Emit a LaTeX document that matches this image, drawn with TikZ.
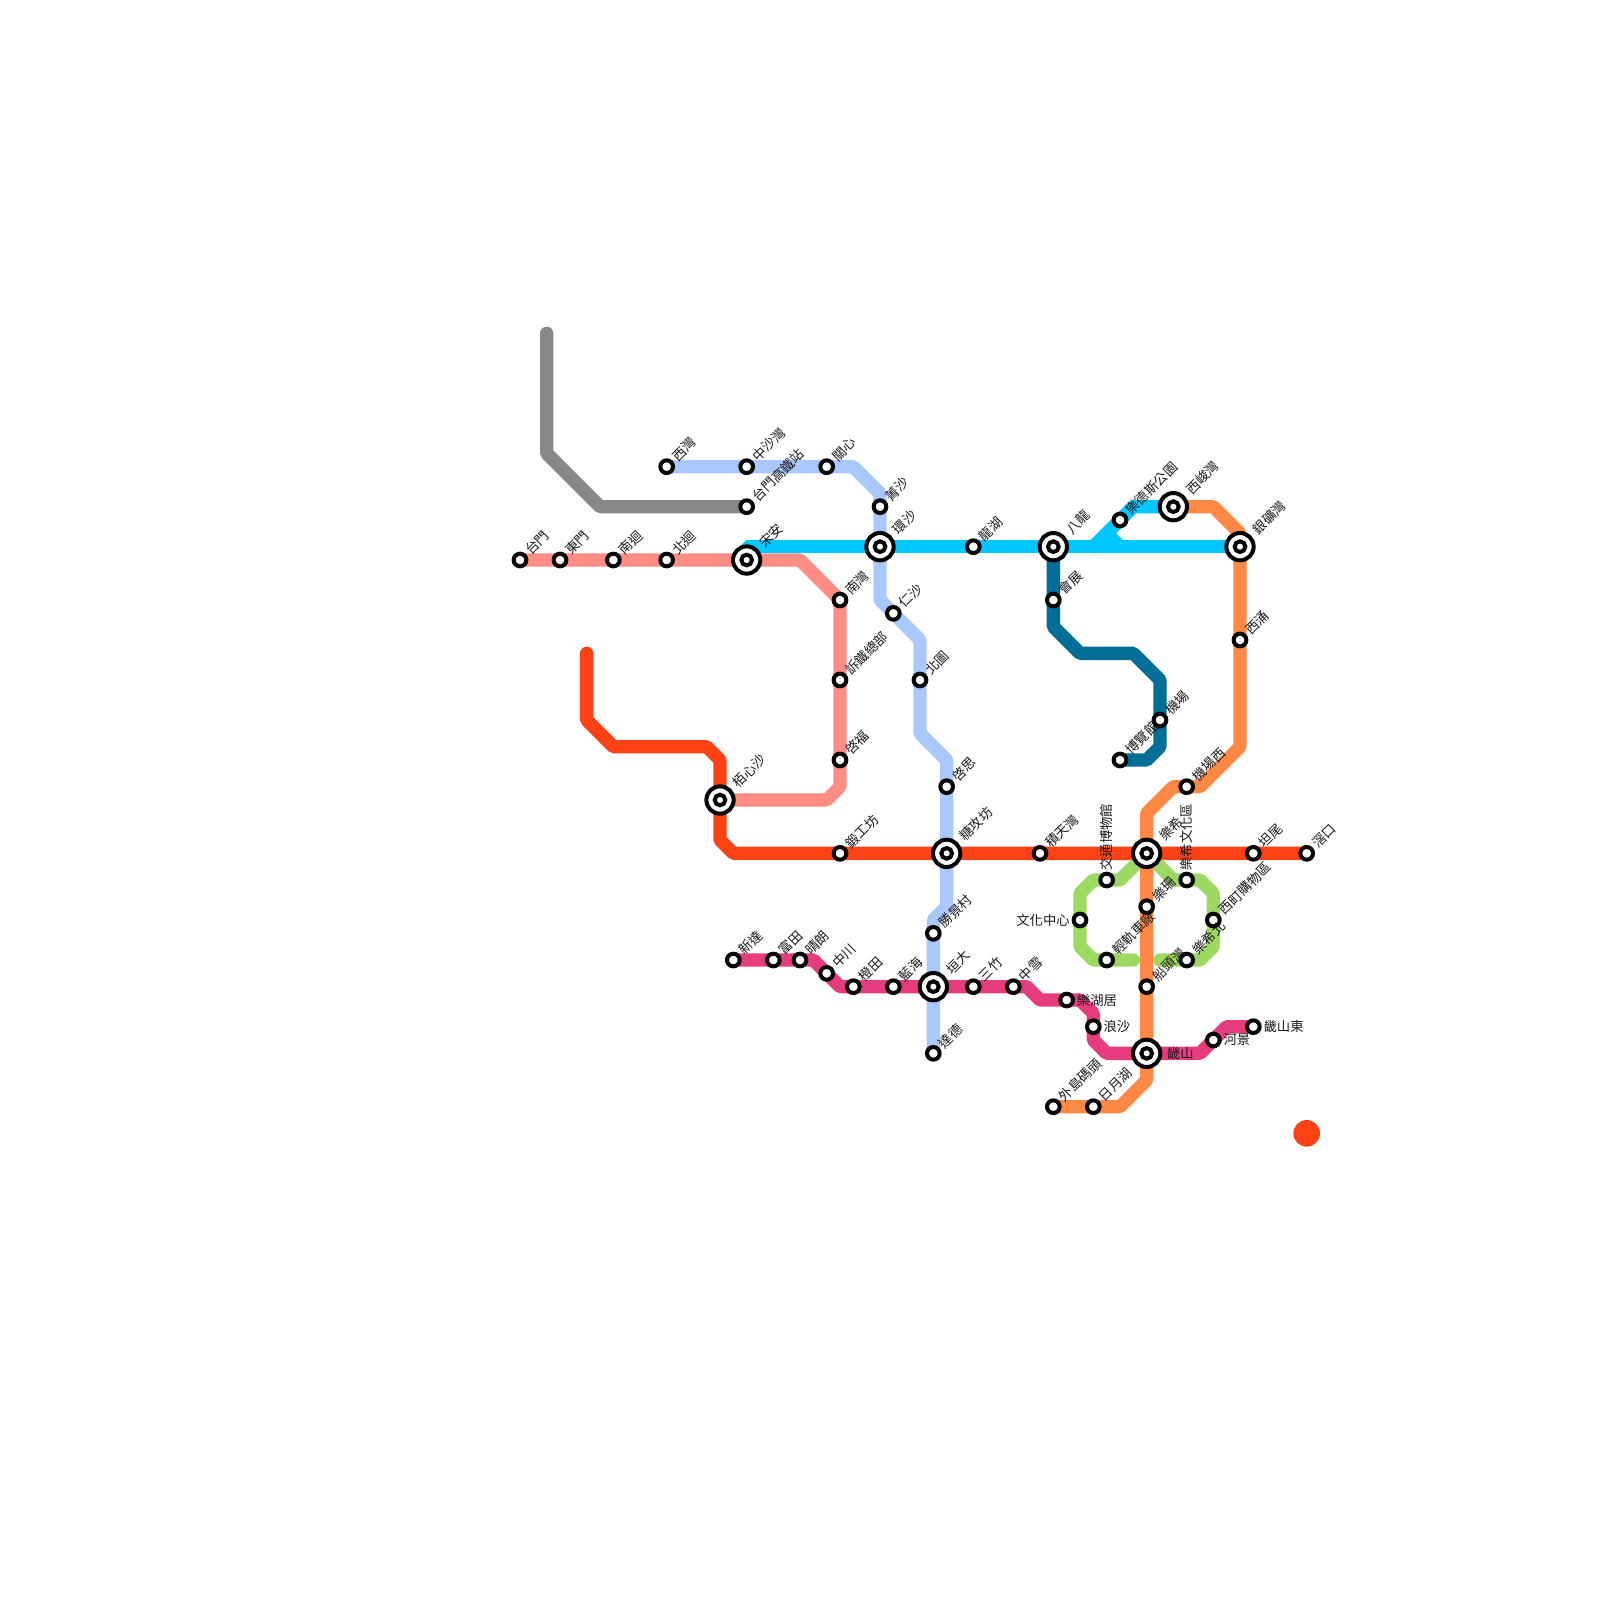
\documentclass[tikz,border=0pt]{standalone}
\usepackage{fontspec}
\setmainfont{Noto Sans CJK TC}
\definecolor{cgray}{HTML}{888888}
\definecolor{clight}{HTML}{A8C8FF}
\definecolor{csalmon}{HTML}{FF8D85}
\definecolor{ccyan}{HTML}{00C8FF}
\definecolor{cred}{HTML}{FF4216}
\definecolor{corange}{HTML}{FF8845}
\definecolor{cdeep}{HTML}{006E96}
\definecolor{cgreen}{HTML}{9CD862}
\definecolor{cpink}{HTML}{E63C7D}
\pgfdeclarelayer{lines}
\pgfsetlayers{lines,main}
\tikzset{
  metro/.style={line width=10pt,line cap=round,line join=bevel},
  ring/.style={circle,draw=black,fill=white,line width=3pt,inner sep=0pt,minimum size=9.5pt},
  innerring/.style={circle,draw=black,fill=white,line width=3pt,inner sep=0pt,minimum size=8pt},
  bigring/.style={circle,draw=black,fill=white,line width=3pt,inner sep=0pt,minimum size=20.5pt},
  lbl/.style={inner sep=0pt,font=\fontsize{10}{10}\selectfont,text=black!90},
}
% small station, label at 45 degrees
\newcommand{\stn}[4]{\node[ring] (#1) at (#2,#3) {};
  \node[lbl,xshift=5.8pt,yshift=5.8pt,rotate=45,anchor=west] (#1-l) at (#2,#3) {#4};}
% interchange, label at 45 degrees
\newcommand{\xch}[4]{\node[bigring] (#1) at (#2,#3) {};\node[innerring] (#1-i) at (#2,#3) {};
  \node[lbl,xshift=11.2pt,yshift=11.2pt,rotate=45,anchor=west] (#1-l) at (#2,#3) {#4};}
% small station, label upright above
\newcommand{\stnup}[4]{\node[ring] (#1) at (#2,#3) {};
  \node[lbl,yshift=7pt,rotate=90,anchor=west] (#1-l) at (#2,#3) {#4};}
% small station, horizontal label on the right
\newcommand{\stnr}[4]{\node[ring] (#1) at (#2,#3) {};
  \node[lbl,anchor=west,xshift=7.5pt] (#1-l) at (#2,#3) {#4};}
% small station, horizontal label on the left
\newcommand{\stnl}[4]{\node[ring] (#1) at (#2,#3) {};
  \node[lbl,anchor=east,xshift=-7.5pt] (#1-l) at (#2,#3) {#4};}
\begin{document}
\begin{tikzpicture}[x=10pt,y=-10pt]
\useasboundingbox (0,0) rectangle (120,120);
% stations
\stn{taimen}{39}{42}{台門}
\stn{dongmen}{42}{42}{東門}
\stn{nanhui}{46}{42}{南迴}
\stn{beihui}{50}{42}{北迴}
\xch{songan}{56}{42}{宋安}
\stn{xiwan}{50}{35}{西灣}
\stn{zhongsha}{56}{35}{中沙灣}
\stn{gaotie}{56}{38}{台門高鐵站}
\stn{guanxin}{62}{35}{關心}
\stn{jingsha}{66}{38}{菁沙}
\xch{huansha}{66}{41}{環沙}
\stn{nanwan}{63}{45}{南灣}
\stn{rensha}{67}{46}{仁沙}
\stn{sutie}{63}{51}{訴鐵總部}
\stn{beitu}{69}{51}{北圖}
\stn{qifu}{63}{57}{啓福}
\stn{qisi}{71}{59}{啓思}
\xch{baixin}{54}{60}{栢心沙}
\stn{duangong}{63}{64}{鍛工坊}
\xch{tanggong}{71}{64}{糖攻坊}
\stn{jitian}{78}{64}{積天灣}
\xch{lexi}{86}{64}{樂希}
\stn{tanwei}{94}{64}{坦尾}
\stn{jiaokou}{98}{64}{滘口}
\stn{longhu}{73}{41}{龍湖}
\xch{balong}{79}{41}{八龍}
\stn{huizhan}{79}{45}{會展}
\stn{jichang}{87}{54}{機場}
\stn{bolan}{84}{57}{博覽館}
\stn{xichong}{93}{48}{西涌}
\xch{yinkuang}{93}{41}{銀礦灣}
\xch{xijun}{88}{38}{西峻灣}
\stn{lede}{84}{39}{樂德斯公園}
\stn{jichangxi}{89}{59}{機場西}
\stnup{jiaotong}{83}{66}{交通博物館}
\stnup{wenhuaqu}{89}{66}{樂希文化區}
\stn{leshan}{86}{68}{樂珊}
\stnl{wenhua}{81}{69}{文化中心}
\stn{qinggui}{83}{72}{輕軌車廠}
\stn{ximen}{91}{69}{西町購物區}
\stn{lexibei}{89}{72}{樂希北}
\stn{chuantou}{86}{74}{船頭灣}
\stn{xinda}{55}{72}{新達}
\stn{futian}{58}{72}{富田}
\stn{qinglang}{60}{72}{晴朗}
\stn{zhongchuan}{62}{73}{中川}
\stn{chengtian}{64}{74}{橙田}
\stn{lanhai}{67}{74}{藍海}
\xch{yuanda}{70}{74}{垣大}
\stn{sanzhu}{73}{74}{三竹}
\stn{zhongxue}{76}{74}{中雪}
\stn{shengjing}{70}{70}{勝景村}
\stn{dade}{70}{79}{達德}
\stnr{lehu}{80}{75}{樂湖居}
\stnr{langsha}{82}{77}{浪沙}
\node[bigring] (jishan) at (86,79) {};\node[innerring] (jishan-i) at (86,79) {};
\node[lbl,anchor=west,xshift=15pt] (jishan-l) at (86,79) {畿山};
\stnr{hejing}{91}{78}{河景}
\stnr{jishandong}{94}{77}{畿山東}
\stn{waidao}{79}{83}{外島碼頭}
\stn{riyue}{82}{83}{日月湖}
\node[circle,fill=cred,inner sep=0pt,minimum size=20pt] (dot) at (98,85) {};
% lines
\begin{pgfonlayer}{lines}
\draw[metro,cgray] (41,25) -- (41,34) -- (45,38) -- (gaotie.center);
\draw[metro,ccyan] (songan.center) -- (56,41) -- (huansha.center) -- (longhu.center) -- (balong.center) -- (yinkuang.center);
\draw[metro,ccyan] (82,41) -- (lede.center) -- (85,38) -- (xijun.center);
\draw[metro,ccyan,line cap=butt] (83,40) -- (84,41);
\draw[metro,clight] (xiwan.center) -- (zhongsha.center) -- (guanxin.center) -- (64,35) -- (66,37) -- (jingsha.center) -- (huansha.center) -- (66,45) -- (rensha.center) -- (69,48) -- (beitu.center) -- (69,55) -- (71,57) -- (qisi.center) -- (tanggong.center) -- (71,68) -- (70,69) -- (shengjing.center) -- (yuanda.center) -- (dade.center);
\draw[metro,csalmon] (taimen.center) -- (dongmen.center) -- (nanhui.center) -- (beihui.center) -- (songan.center) -- (60,42) -- (nanwan.center) -- (sutie.center) -- (qifu.center) -- (63,59) -- (62,60) -- (baixin.center);
\draw[metro,cred] (44,49) -- (44,54) -- (46,56) -- (53,56) -- (54,57) -- (baixin.center) -- (54,63) -- (55,64) -- (duangong.center) -- (tanggong.center) -- (jitian.center) -- (lexi.center) -- (tanwei.center) -- (jiaokou.center);
\draw[metro,cdeep] (balong.center) -- (huizhan.center) -- (79,47) -- (81,49) -- (85,49) -- (87,51) -- (jichang.center) -- (87,56) -- (86,57) -- (bolan.center);
\draw[metro,cgreen] (lexi.center) -- (84,66) -- (jiaotong.center) -- (82,66) -- (81,67) -- (wenhua.center) -- (81,71) -- (82,72) -- (qinggui.center) -- (85,72);
\draw[metro,cgreen] (lexi.center) -- (88,66) -- (wenhuaqu.center) -- (90,66) -- (91,67) -- (ximen.center) -- (91,71) -- (90,72) -- (lexibei.center) -- (87,72);
\draw[metro,cpink] (xinda.center) -- (futian.center) -- (qinglang.center) -- (61,72) -- (zhongchuan.center) -- (63,74) -- (chengtian.center) -- (lanhai.center) -- (yuanda.center) -- (sanzhu.center) -- (zhongxue.center) -- (77,74) -- (78,75) -- (lehu.center) -- (81,75) -- (82,76) -- (langsha.center) -- (82,78) -- (83,79) -- (jishan.center) -- (90,79) -- (hejing.center) -- (92,77) -- (jishandong.center);
\draw[metro,corange] (xijun.center) -- (91,38) -- (93,40) -- (yinkuang.center) -- (xichong.center) -- (93,56) -- (90,59) -- (jichangxi.center) -- (88,59) -- (86,61) -- (lexi.center) -- (leshan.center) -- (chuantou.center) -- (jishan.center) -- (86,81) -- (84,83) -- (riyue.center) -- (waidao.center);
\end{pgfonlayer}
\end{tikzpicture}
\end{document}
